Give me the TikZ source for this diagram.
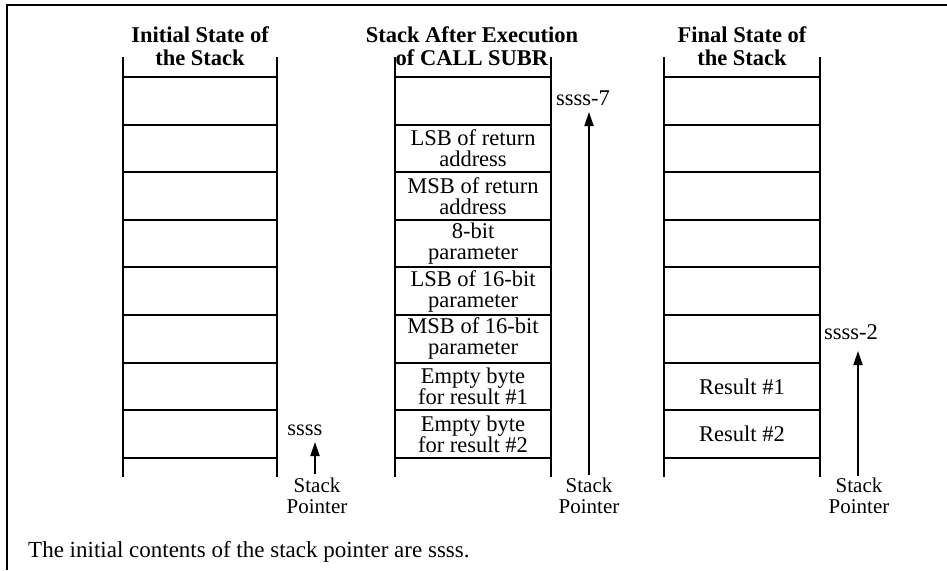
\documentclass[tikz,border=0pt]{standalone}
\usepackage{fontspec}
\setmainfont{Liberation Serif}
\usetikzlibrary{arrows.meta}
\begin{document}
\begin{tikzpicture}[x=1pt,y=-1pt,
  stackline/.style={line width=1.9pt},
  frameline/.style={line width=2pt},
  celltext/.style={font=\fontsize{22.5}{21}\selectfont, align=center, inner sep=0pt},
  titletext/.style={font=\fontsize{22.5}{23}\selectfont\bfseries, align=center, inner sep=0pt},
  ptrlabel/.style={font=\fontsize{21}{21.5}\selectfont, align=center, inner sep=0pt},
  valtext/.style={font=\fontsize{22.5}{21}\selectfont, inner sep=0pt},
  captext/.style={font=\fontsize{23}{24}\selectfont, inner sep=0pt, anchor=base west},
  ptrarrow/.style={line width=1.8pt, -{Triangle[length=14pt,width=9pt]}},
]
\useasboundingbox (0,0) rectangle (947,570);
\fill[white] (0,0) rectangle (947,570);
\draw[frameline] (7,570) -- (7,5) -- (947,5);

% stacks
\foreach \L/\R in {123/277,395/551,664/820}{
  \draw[stackline] (\L,57) -- (\L,477);
  \draw[stackline] (\R,57) -- (\R,477);
  \foreach \i in {0,...,8}{
    \draw[stackline] (\L,77+\i*47.6) -- (\R,77+\i*47.6);
  }
}

% titles
\node[titletext] (t1) at (200,46) {Initial State of\\the Stack};
\node[titletext] (t2) at (472,46) {Stack After Execution\\of CALL SUBR};
\node[titletext] (t3) at (742,46) {Final State of\\the Stack};

% middle stack contents
\node[celltext] (c1) at (473,148.4) {LSB of return\\address};
\node[celltext] (c2) at (473,196.0) {MSB of return\\address};
\node[celltext] (c3) at (473,243.6) {8-bit\\parameter};
\node[celltext] (c4) at (473,291.2) {LSB of 16-bit\\parameter};
\node[celltext] (c5) at (473,338.8) {MSB of 16-bit\\parameter};
\node[celltext] (c6) at (473,386.4) {Empty byte\\for result \#1};
\node[celltext] (c7) at (473,434.0) {Empty byte\\for result \#2};

% final stack contents
\node[celltext] (r1) at (742,386.4) {Result \#1};
\node[celltext] (r2) at (742,434.0) {Result \#2};

% stack pointers
\node[valtext] (v1) at (305,430) {ssss};
\node[valtext] (v2) at (583,98) {ssss-7};
\node[valtext] (v3) at (851,332) {ssss-2};
\node[ptrlabel] (p1) at (317,496) {Stack\\Pointer};
\node[ptrlabel] (p2) at (589,496) {Stack\\Pointer};
\node[ptrlabel] (p3) at (859,496) {Stack\\Pointer};

\coordinate (a1s) at (315,474); \coordinate (a1e) at (315,442);
\coordinate (a2s) at (589,475); \coordinate (a2e) at (589,112);
\coordinate (a3s) at (858,476); \coordinate (a3e) at (858,351);
\draw[ptrarrow] (a1s) -- (a1e);
\draw[ptrarrow] (a2s) -- (a2e);
\draw[ptrarrow] (a3s) -- (a3e);

% caption
\node[captext] (cap) at (28,557) {The initial contents of the stack pointer are ssss.};
\end{tikzpicture}
\end{document}
